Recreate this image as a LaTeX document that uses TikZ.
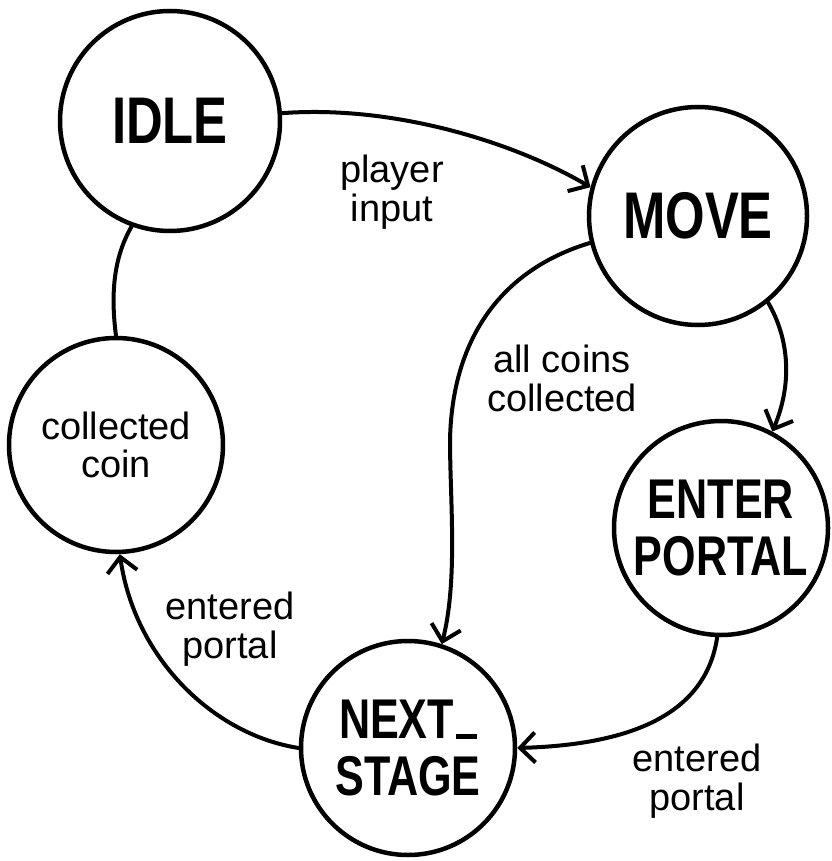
\documentclass[tikz,border=0pt]{standalone}
\usepackage{fontspec}
\setmainfont{Liberation Sans}
\newfontfamily\statefont[FakeStretch=0.77]{Liberation Sans}
\usetikzlibrary{arrows.meta}
\begin{document}
\begin{tikzpicture}[x=1pt,y=-1pt,
  state/.style={circle,draw,line width=4.5pt,fill=white,inner sep=0pt,align=center},
  bigname/.style={font=\statefont\bfseries\fontsize{66}{70}\selectfont},
  twoline/.style={font=\statefont\bfseries\fontsize{56}{57}\selectfont},
  smallname/.style={font=\fontsize{38}{38}\selectfont},
  trans/.style={line width=4pt,line cap=round,-{Straight Barb[length=15pt,width=30pt]}},
  link/.style={line width=4pt,line cap=round},
  lbl/.style={align=center,inner sep=0pt,font=\fontsize{38}{39}\selectfont}]
\useasboundingbox (0,0) rectangle (831,861);

% states
\node[state,bigname,minimum size=220pt] (idle) at (170,121) {IDLE};
\node[state,bigname,minimum size=218pt] (move) at (698,216) {MOVE};
\node[state,twoline,minimum size=214pt] (enter) at (721,528) {ENTER\\PORTAL};
\node[state,twoline,minimum size=214pt] (next) at (408,748)
  {NEXT\kern2pt\rule{21pt}{4.5pt}\\STAGE};
\node[state,smallname,minimum size=214pt] (coin) at (116,445) {collected\\coin};

% transitions
\draw[trans] (idle.4) .. controls (390,105) and (510,140) .. (move.165);
\draw[trans] (move.194) .. controls (500,270) and (452,340) .. (450,440)
                        .. controls (450,500) and (458,580) .. (next.72);
\draw[trans] (move.-51) .. controls (790,340) and (792,385) .. (enter.62);
\draw[trans] (enter.268) .. controls (705,720) and (620,745) .. (next.0);
\draw[trans] (next.180) .. controls (215,735) and (135,660) .. (coin.272);
\draw[link] (coin.90) .. controls (110,290) and (115,255) .. (idle.250);

% transition labels
\node[lbl] (lplayer) at (392,192) {player\\input};
\node[lbl] (lcoins) at (562,378) {all coins\\collected};
\node[lbl] (lportalA) at (230,629) {entered\\portal};
\node[lbl] (lportalB) at (697,781) {entered\\portal};
\end{tikzpicture}
\end{document}
